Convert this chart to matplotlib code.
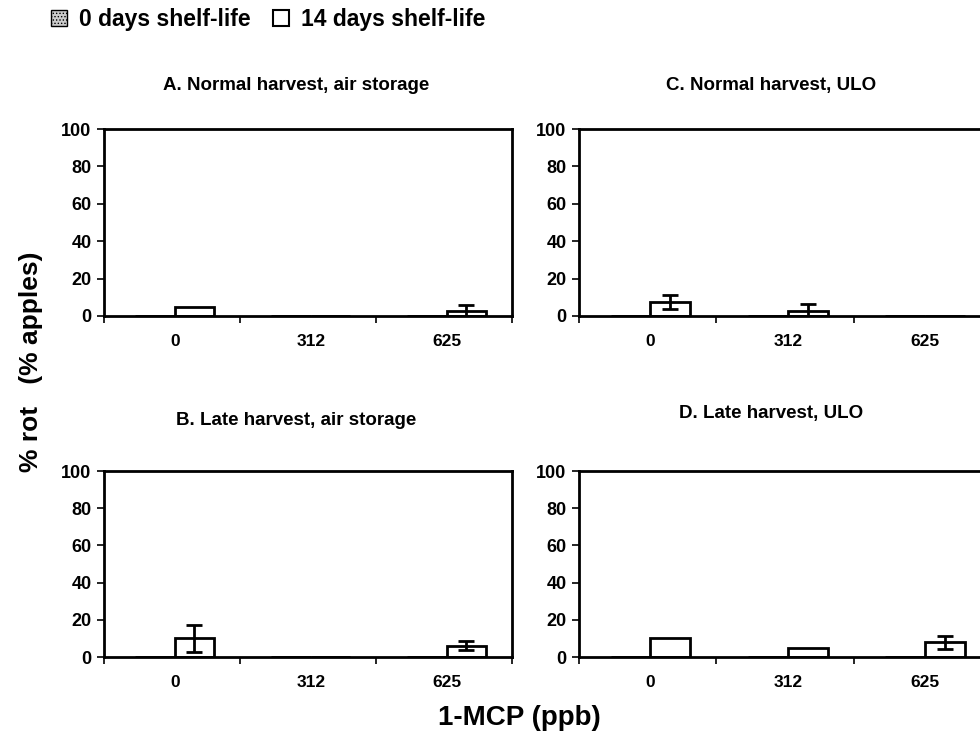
# Rot incidence in apples after storage, by 1-MCP dose and shelf-life period
import numpy as np
import matplotlib.pyplot as plt
from matplotlib.patches import Patch

plt.rcParams['font.family'] = ['Liberation Sans', 'DejaVu Sans']
plt.rcParams['font.weight'] = 'bold'
plt.rcParams['hatch.color'] = '#555555'
plt.rcParams['hatch.linewidth'] = 0.6

doses = ['0', '312', '625']

# % rot after 0 days shelf-life (none found)
day0_A = [0, 0, 0]
day0_B = [0, 0, 0]
day0_C = [0, 0, 0]
day0_D = [0, 0, 0]

# % rot after 14 days shelf-life, with standard errors
day14_A = [5, 0, 2.5]
err14_A = [0, 0, 3.5]
day14_B = [10, 0, 6]
err14_B = [7.3, 0, 2.5]
day14_C = [7.5, 2.8, 0]
err14_C = [3.8, 3.5, 0]
day14_D = [10, 5, 8]
err14_D = [0, 0, 3.5]

titles = ['A. Normal harvest, air storage', 'B. Late harvest, air storage',
          'C. Normal harvest, ULO', 'D. Late harvest, ULO']

fig = plt.figure(figsize=(9.8, 7.56), dpi=100)
W, H = 980, 756

def px_axes(left, top, width, height):
    return fig.add_axes([left / W, 1 - (top + height) / H, width / W, height / H])

axA = px_axes(104, 129, 408, 187)
axB = px_axes(104, 471, 408, 186)
axC = px_axes(579, 129, 412, 187)
axD = px_axes(579, 471, 412, 186)

panels = [
    (axA, day0_A, day14_A, err14_A, titles[0], 0.472, 1.235),
    (axB, day0_B, day14_B, err14_B, titles[1], 0.472, 1.27),
    (axC, day0_C, day14_C, err14_C, titles[2], 0.466, 1.235),
    (axD, day0_D, day14_D, err14_D, titles[3], 0.466, 1.31),
]

x = np.arange(len(doses))
bw = 0.29
for ax, d0, d14, e14, title, tx, ty in panels:
    ax.bar(x - bw / 2 + 0.02, d0, bw, color='#cccccc', hatch='.....',
           edgecolor='black', linewidth=2)
    ax.bar(x + bw / 2 + 0.02, d14, bw, color='white', edgecolor='black',
           linewidth=2, zorder=2)
    has_err = np.array(e14) > 0
    ax.errorbar((x + bw / 2 + 0.02)[has_err], np.array(d14)[has_err],
                yerr=np.array(e14)[has_err], fmt='none', ecolor='black',
                elinewidth=2, capsize=6, capthick=2, zorder=3)
    ax.set_xlim(-0.5, 2.5)
    ax.set_ylim(0, 100)
    ax.set_yticks([0, 20, 40, 60, 80, 100])
    ax.set_xticks(x + 0.02)
    ax.set_xticklabels(doses)
    ax.set_xticks([-0.5, 0.5, 1.5, 2.5], minor=True)
    ax.tick_params(axis='x', which='major', length=0, pad=13, labelsize=12.5)
    ax.tick_params(axis='x', which='minor', length=5, width=1.2)
    ax.tick_params(axis='y', length=5, width=1.2, labelsize=13, pad=4)
    for s in ax.spines.values():
        s.set_linewidth(2)
    ax.text(tx, ty, title, transform=ax.transAxes, ha='center', va='center',
            fontsize=13.5, fontweight='bold')

fig.text(0.032, 0.522, '% rot   (% apples)', rotation=90, ha='center',
         va='center', fontsize=19, fontweight='bold')
fig.text(0.53, 0.05, '1-MCP (ppb)', ha='center', va='center',
         fontsize=20, fontweight='bold')

handles = [Patch(facecolor='#cccccc', hatch='.....', edgecolor='black',
                 linewidth=1, label='0 days shelf-life'),
           Patch(facecolor='white', edgecolor='black', linewidth=1.5,
                 label='14 days shelf-life')]
fig.legend(handles=handles, loc='upper left', bbox_to_anchor=(0.031, 1.017),
           ncol=2, frameon=False, handlelength=0.7,
           handleheight=0.7, handletextpad=0.5, columnspacing=1.0,
           prop={'weight': 'bold', 'size': 16.5})

fig.savefig('out.png', dpi=100)
